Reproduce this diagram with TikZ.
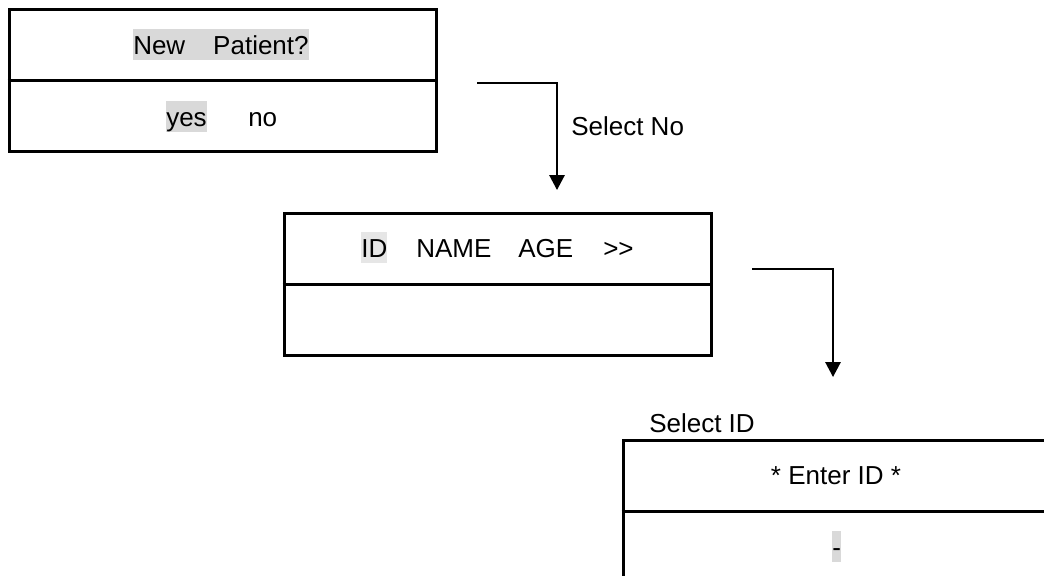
\documentclass[tikz,border=0pt]{standalone}
\usepackage{fontspec}
\setmainfont{Liberation Sans}
\usetikzlibrary{arrows.meta}
\definecolor{hlgray}{RGB}{217,217,217}
\definecolor{hlid}{RGB}{230,230,230}
\tikzset{
  screen/.style={draw=black, line width=2.25pt, minimum width=320.25pt, minimum height=106.5pt, inner sep=0pt},
  divider/.style={line width=2.25pt},
  txt/.style={inner sep=0pt, text height=18.75pt, text depth=4.5pt, font=\fontsize{19.5pt}{23pt}\selectfont},
  hl/.style={fill=hlgray},
  hlb/.style={fill=hlid},
  arr/.style={line width=1.5pt, -{Triangle[length=11.25pt,width=11.5pt]}},
}
\begin{document}
\begin{tikzpicture}[x=0.75pt,y=-0.75pt]
\useasboundingbox (0,0) rectangle (1044,575);
\fill[white] (0,0) rectangle (1044,575);
\clip (0,0) rectangle (1044,575);

% screen 1
\node[screen] (s1) at (222.5,80.5) {};
\draw[divider] (s1.west) -- (s1.east);
\node[txt, hl, anchor=base west] (np) at (133,54) {New\hspace{21pt}Patient?};
\node[txt, hl, anchor=base west] (yes) at (166,126) {yes};
\node[txt, anchor=base west] (no) at (248,126) {no};

% arrow 1
\coordinate (a1s) at (477,83);
\coordinate (a1c) at (557,83);
\coordinate (a1e) at (557,190);
\draw[arr] (a1s) -- (a1c) -- (a1e);
\node[txt, anchor=base west] (selno) at (571,135) {Select No};

% screen 2
\node[screen] (s2) at (497.5,284) {};
\draw[divider] (s2.west) -- (s2.east);
\node[txt, hlb, anchor=base west] (id) at (361,257) {ID};
\node[txt, anchor=base west] (name) at (416,257) {NAME};
\node[txt, anchor=base west] (age) at (518,257) {AGE};
\node[txt, anchor=base west] (more) at (603,257) {\mbox{>}\mbox{>}};

% arrow 2
\coordinate (a2s) at (752,269);
\coordinate (a2c) at (833,269);
\coordinate (a2e) at (833,377);
\draw[arr] (a2s) -- (a2c) -- (a2e);

% screen 3
\node[txt, anchor=base west] (selid) at (649,432) {Select ID};
\node[screen] (s3) at (836.5,511) {};
\draw[divider] (s3.west) -- (s3.east);
\node[txt, anchor=base] (enter) at (836,484) {* Enter ID *};
\node[txt, hl, anchor=base west] (dash) at (832,556) {-};
\end{tikzpicture}
\end{document}
